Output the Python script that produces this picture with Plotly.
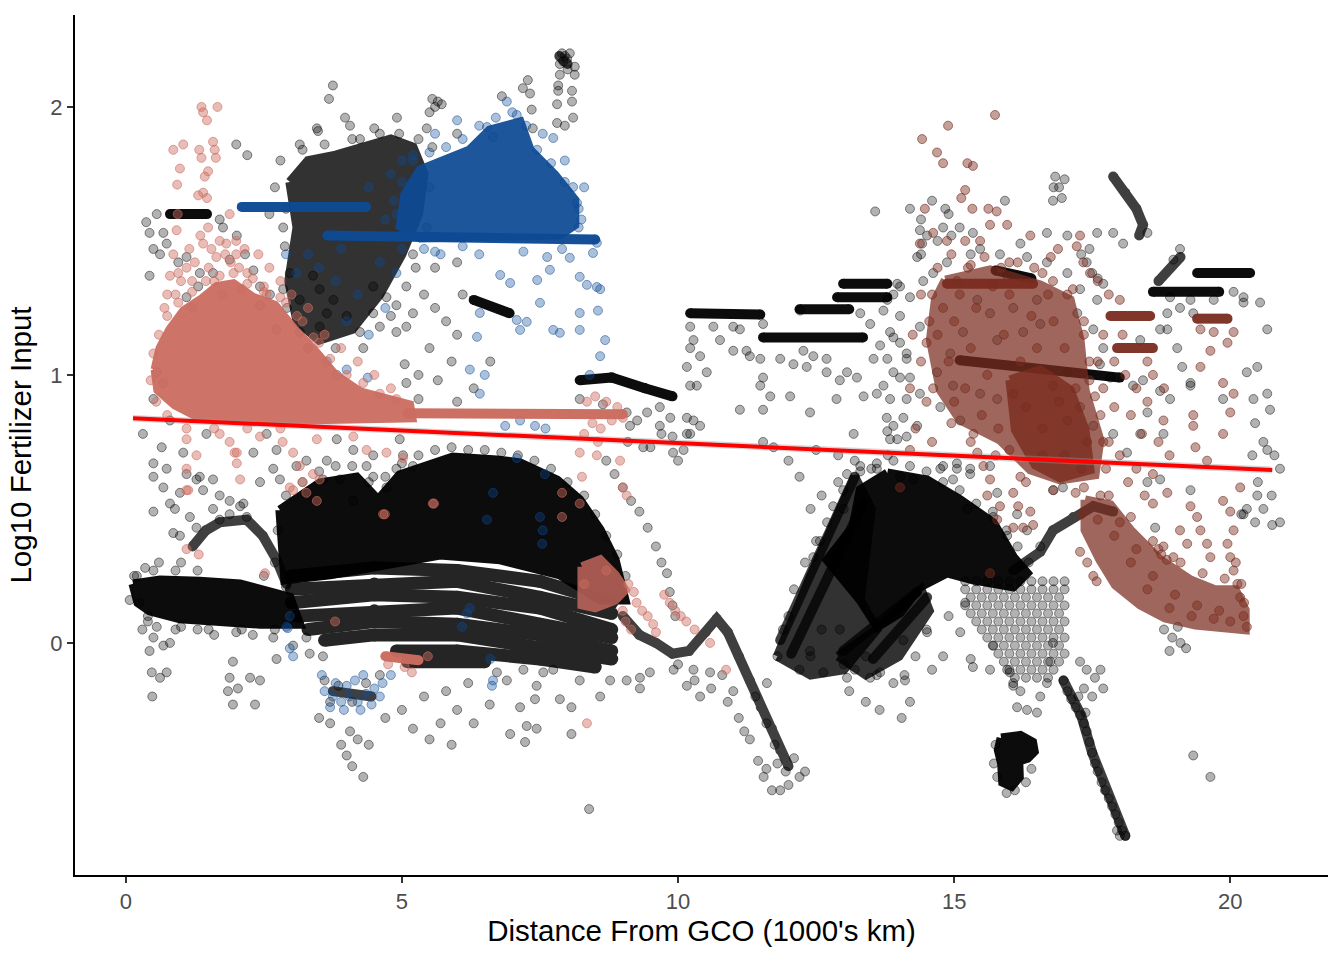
import plotly.graph_objects as go

# ---------------- data: x = distance from GCO (1000 km), y = log10 fertilizer ----------------
BLACK = "0,0,0"
SALMON = "204,108,96"
BLUE = "14,74,148"
BROWN = "122,44,30"

# dense black clusters (outline of heavily overplotted areas)
black_cores = [
    [(0.13, 0.22), (0.62, 0.235), (1.34, 0.23), (2.07, 0.22), (2.97, 0.17), (3.15, 0.07), (2.43, 0.07),
     (1.70, 0.08), (0.98, 0.09), (0.43, 0.12), (0.22, 0.15)],
    [(2.79, 0.496), (3.51, 0.597), (4.18, 0.619), (4.57, 0.534), (4.96, 0.627), (5.92, 0.694), (6.72, 0.683),
     (7.14, 0.672), (7.81, 0.608), (8.22, 0.534), (8.59, 0.422), (8.86, 0.31), (9.04, 0.16), (8.59, 0.16),
     (7.86, 0.254), (6.78, 0.31), (5.69, 0.328), (4.60, 0.291), (3.70, 0.254), (2.88, 0.235)],
    [(13.79, 0.634), (14.51, 0.608), (15.11, 0.534), (15.71, 0.448), (16.07, 0.321), (16.32, 0.261),
     (16.07, 0.209), (15.34, 0.235), (14.87, 0.261), (14.38, 0.209), (14.02, 0.112), (13.61, 0.06),
     (13.30, 0.16), (12.99, 0.235), (12.70, 0.31), (13.17, 0.433), (13.30, 0.571)],
    [(15.85, -0.355), (16.20, -0.345), (16.42, -0.37), (16.45, -0.405), (16.33, -0.43), (16.17, -0.44),
     (16.18, -0.50), (16.04, -0.535), (15.88, -0.52), (15.86, -0.45), (15.80, -0.40)],
]
# medium-density black areas
black_soft = [
    [(2.97, 1.72), (3.30, 1.80), (3.80, 1.82), (4.30, 1.85), (4.80, 1.88), (5.20, 1.85), (5.40, 1.75),
     (5.30, 1.60), (5.00, 1.45), (4.60, 1.30), (4.10, 1.17), (3.50, 1.13), (3.10, 1.20), (2.95, 1.35),
     (3.10, 1.55)],
    [(11.80, -0.05), (12.40, 0.25), (13.20, 0.62), (13.50, 0.50), (13.30, 0.16), (13.60, 0.05),
     (13.00, -0.10), (12.40, -0.12)],
    [(12.90, -0.05), (13.60, 0.05), (14.40, 0.20), (14.55, 0.12), (14.00, -0.05), (13.40, -0.12)],
]

# chains of overlapping black points
black_tracks = [
    [(1.21, 0.36), (1.45, 0.42), (1.70, 0.45), (2.19, 0.46), (2.48, 0.40), (2.73, 0.31), (2.91, 0.22)],
    [(9.0, 0.10), (9.3, 0.03), (9.6, 0.0), (9.9, -0.04), (10.2, -0.03), (10.5, 0.04), (10.7, 0.09),
     (10.9, 0.04), (11.1, -0.05), (11.3, -0.14), (11.5, -0.24), (11.7, -0.32), (11.85, -0.40), (12.0, -0.46)],
    [(11.85, 0.01), (13.20, 0.62)],
    [(12.05, -0.04), (13.35, 0.52)],
    [(12.99, -0.03), (14.33, 0.19)],
    [(13.53, -0.06), (14.51, 0.17)],
    [(16.07, 0.27), (16.56, 0.34), (16.79, 0.42), (17.16, 0.47), (17.52, 0.51), (17.88, 0.49)],
    [(16.98, -0.14), (17.3, -0.27), (17.5, -0.41), (17.75, -0.55), (18.1, -0.72)],
    [(17.88, 1.74), (18.1, 1.68), (18.3, 1.62), (18.42, 1.56), (18.35, 1.52)],
    [(18.7, 1.35), (19.1, 1.44)],
    [(7.85, 2.19), (8.0, 2.16)],
    [(3.75, -0.18), (4.45, -0.2)],
]
# striated lower part of the big western cluster
black_rows = [
    [(3.0, 0.25), (4.5, 0.28), (6.0, 0.27), (7.5, 0.23), (8.8, 0.15)],
    [(3.0, 0.20), (4.5, 0.22), (6.0, 0.23), (7.5, 0.17), (8.8, 0.11)],
    [(3.0, 0.15), (4.5, 0.18), (6.0, 0.17), (7.5, 0.13), (8.8, 0.05)],
    [(3.1, 0.10), (4.5, 0.12), (6.0, 0.13), (7.5, 0.07), (8.8, 0.02)],
    [(3.3, 0.05), (4.5, 0.08), (6.0, 0.07), (7.5, 0.03), (8.8, -0.03)],
    [(3.6, 0.01), (4.5, 0.03), (6.0, 0.03), (7.5, -0.02), (8.8, -0.06)],
    [(4.9, -0.03), (6.0, -0.03), (7.5, -0.06), (8.5, -0.09)],
    [(5.1, -0.07), (6.5, -0.07)],
]
# horizontal runs of identical values: (x start, x end, y start, y end)
black_bands = [
    (0.8, 1.47, 1.60, 1.60), (10.22, 11.49, 1.23, 1.225), (11.54, 13.35, 1.14, 1.14),
    (12.2, 13.1, 1.245, 1.245), (12.88, 13.79, 1.29, 1.29), (12.99, 13.79, 1.34, 1.34),
    (15.1, 18.0, 1.055, 0.99), (18.6, 19.8, 1.31, 1.31), (19.4, 20.36, 1.38, 1.38),
    (15.75, 16.4, 1.39, 1.36), (6.3, 6.95, 1.28, 1.23),
    (8.22, 8.8, 0.98, 0.99), (8.8, 9.4, 0.99, 0.95), (9.4, 9.9, 0.95, 0.92),
]
black_grid_y = [0.23, 0.20, 0.17, 0.14, 0.11, 0.08, 0.05, 0.02, -0.01, -0.04, -0.07, -0.10, -0.13]
black_grid_x = [
    [15.2, 15.4, 15.6, 15.8, 16.0, 16.2, 16.4, 16.6, 16.8, 17.0],
    [15.2, 15.4, 15.6, 15.8, 16.0, 16.2, 16.4, 16.6, 16.8, 17.0],
    [15.3, 15.5, 15.7, 15.9, 16.1, 16.3, 16.5, 16.7, 16.9],
    [15.2, 15.4, 15.6, 15.8, 16.0, 16.2, 16.4, 16.6, 16.8, 17.0],
    [15.3, 15.5, 15.7, 15.9, 16.1, 16.3, 16.5, 16.7, 16.9],
    [15.4, 15.6, 15.8, 16.0, 16.2, 16.4, 16.6, 16.8, 17.0],
    [15.5, 15.7, 15.9, 16.1, 16.3, 16.5, 16.7, 16.9],
    [15.6, 15.8, 16.0, 16.2, 16.4, 16.6, 16.8, 17.0],
    [15.7, 15.9, 16.1, 16.3, 16.5, 16.7, 16.9],
    [15.8, 16.0, 16.2, 16.4, 16.6, 16.8, 17.0],
    [15.9, 16.1, 16.3, 16.5, 16.7, 16.9],
    [16.0, 16.2, 16.4, 16.6, 16.8],
    [16.1, 16.3, 16.5, 16.7],
]
black_points = [
    (0.31, 0.78), (0.50, 0.91), (0.65, 0.73), (0.50, 0.67), (0.74, 0.65), (0.50, 0.62), (0.80, 0.52),
    (0.50, 0.49), (0.89, 0.50), (0.98, 0.56), (1.10, 0.63), (1.34, 0.62), (1.58, 0.61), (1.70, 0.55),
    (1.88, 0.48), (2.13, 0.52), (2.43, 0.60), (2.67, 0.65), (2.79, 0.61), (3.09, 0.66), (3.27, 0.68),
    (3.64, 0.68), (3.82, 0.76), (4.12, 0.72), (4.36, 0.66), (4.48, 0.70), (4.96, 0.76), (5.02, 0.70),
    (5.20, 0.66), (0.98, 0.40), (1.28, 0.43), (1.40, 0.57), (2.31, 0.71), (2.55, 0.78), (2.73, 0.72),
    (3.57, 0.61), (3.88, 0.61), (4.12, 0.53), (4.48, 0.62), (4.72, 0.58), (4.90, 0.65), (1.46, 0.78),
    (1.04, 0.71), (0.80, 0.83), (0.68, 0.97), (0.56, 1.01), (5.05, 1.04), (5.08, 0.97), (5.30, 0.91),
    (0.37, 1.57), (0.56, 1.60), (0.43, 1.53), (0.68, 1.53), (0.50, 1.47), (0.62, 1.45), (0.43, 1.37),
    (0.95, 1.42), (1.10, 1.44), (0.74, 1.49), (1.70, 1.58), (1.76, 1.55), (1.34, 1.38), (1.58, 1.38),
    (1.31, 1.33), (1.10, 1.29), (1.88, 1.43), (2.01, 1.52), (2.16, 1.45), (2.31, 1.39), (2.43, 1.33),
    (2.61, 1.30), (2.97, 1.38), (3.15, 1.28), (2.85, 1.32), (2.43, 1.26), (2.73, 1.17), (3.39, 1.37),
    (3.51, 1.32), (3.64, 1.23), (4.00, 1.22), (4.24, 1.16), (4.60, 1.18), (4.90, 1.16), (5.08, 1.18),
    (5.20, 1.23), (4.90, 1.26), (5.08, 1.33), (4.72, 1.29), (4.48, 1.23), (4.48, 1.33), (3.76, 1.28),
    (3.51, 1.18), (3.15, 1.16),
    (0.68, 0.58), (1.16, 0.47), (0.86, 0.41), (1.28, 0.61), (1.58, 0.50), (1.70, 0.46), (1.88, 0.53),
    (2.07, 0.51), (2.19, 0.47), (0.50, 0.02), (0.68, -0.01), (0.80, 0.00), (0.43, -0.03), (0.47, -0.11),
    (0.62, -0.13), (0.74, -0.11), (0.48, -0.20), (1.94, -0.07), (1.88, -0.13), (2.25, -0.13), (2.43, -0.14),
    (1.85, -0.18), (2.03, -0.17), (2.34, -0.23), (1.94, -0.23), (0.07, 0.16), (0.25, 0.15), (0.56, 0.06),
    (2.73, -0.06), (2.67, 0.02), (3.03, -0.01), (3.27, 0.02), (3.57, -0.05), (3.33, -0.04),
    (0.20, 0.25), (0.35, 0.28), (0.60, 0.30), (0.30, 0.05), (0.40, 0.10), (1.00, 0.30), (1.30, 0.05),
    (1.60, 0.03), (2.00, 0.04), (2.30, 0.03), (0.90, 0.05),
    (3.75, 2.08), (3.68, 2.03), (3.48, 1.91), (3.97, 1.96), (4.24, 1.88), (3.15, 1.86), (2.00, 1.86),
    (2.20, 1.82), (4.06, 1.93), (5.55, 2.03), (5.65, 2.02), (5.60, 2.00), (5.50, 1.98), (4.91, 1.96),
    (5.72, 2.01), (6.00, 1.90), (6.81, 2.04), (7.19, 2.07), (7.28, 2.10), (7.32, 2.05), (7.35, 1.99),
    (7.37, 1.92), (7.81, 2.01), (7.83, 2.06), (8.08, 2.06), (8.08, 2.02), (8.10, 1.96), (7.81, 1.94),
    (7.95, 1.93), (7.90, 2.20), (8.04, 2.20), (7.99, 2.18), (7.86, 2.16), (8.13, 2.15), (8.13, 2.12),
    (7.86, 2.12), (7.83, 2.08), (7.95, 2.19), (8.00, 2.14), (7.92, 2.17),
    (5.40, 1.30), (5.60, 1.25), (5.80, 1.20), (6.00, 1.15), (5.50, 1.10), (5.90, 1.05), (6.10, 1.30),
    (5.30, 1.00), (5.65, 0.98), (6.30, 0.95), (6.60, 1.05), (6.00, 0.90), (5.20, 1.45), (5.60, 1.40),
    (6.00, 1.42), (2.70, 1.70), (2.80, 1.80), (2.60, 1.60), (2.85, 1.55), (3.46, 1.92),
    (5.45, 1.92), (5.30, 1.88), (5.55, 1.85), (4.95, 1.90), (4.60, 1.90),
    (2.90, 1.62), (2.88, 1.48), (2.92, 1.25), (3.30, 1.10), (3.80, 1.10), (4.30, 1.10), (4.80, 1.22),
    (5.25, 1.40), (5.45, 1.55), (5.50, 1.70), (3.20, 1.84), (3.60, 1.86), (4.10, 1.88), (4.50, 1.92),
    (2.90, 0.55), (3.20, 0.60), (3.50, 0.64), (3.80, 0.66), (4.10, 0.66), (4.40, 0.60), (4.70, 0.62),
    (5.00, 0.67), (5.30, 0.70), (5.60, 0.72), (5.90, 0.73), (6.20, 0.72), (6.50, 0.72), (6.80, 0.71),
    (7.10, 0.70), (7.40, 0.68), (7.70, 0.65), (8.00, 0.60), (8.30, 0.55), (8.50, 0.48), (8.70, 0.40),
    (8.90, 0.33), (9.05, 0.25), (2.75, 0.42), (2.70, 0.30),
    (13.00, 0.50), (13.30, 0.64), (13.60, 0.67), (13.90, 0.68), (14.20, 0.66), (14.50, 0.64), (14.80, 0.60),
    (15.10, 0.57), (15.40, 0.52), (15.70, 0.49), (15.95, 0.42), (16.15, 0.36), (16.35, 0.30),
    (0.15, 0.25), (0.50, 0.27), (0.90, 0.27), (1.30, 0.27), (2.50, 0.25), (2.90, 0.21), (0.40, 0.08),
    (1.00, 0.06), (1.50, 0.05), (2.10, 0.05), (2.70, 0.05),
    (6.59, -0.23), (6.96, -0.34), (7.14, -0.24), (7.26, -0.31), (7.23, -0.37), (7.44, -0.32), (7.41, -0.21),
    (7.86, -0.21), (8.07, -0.24), (8.07, -0.34), (8.59, -0.20), (9.07, -0.14), (9.31, -0.17), (9.49, -0.11),
    (9.92, -0.10), (10.16, -0.16), (10.40, -0.20), (10.58, -0.11), (10.28, -0.10), (6.72, -0.11),
    (6.90, -0.14), (7.20, -0.10), (7.44, -0.16), (7.56, -0.11), (7.74, -0.10), (8.22, -0.14), (8.77, -0.14),
    (9.31, -0.13), (4.06, -0.33), (4.20, -0.36), (4.40, -0.38), (4.00, -0.42), (4.10, -0.46), (4.30, -0.50),
    (3.90, -0.38), (5.20, -0.32), (5.50, -0.36), (5.70, -0.30), (6.00, -0.25), (6.30, -0.30), (5.90, -0.38),
    (4.70, -0.28), (5.00, -0.25), (3.50, -0.28), (3.70, -0.30), (8.39, -0.62), (6.20, -0.15), (5.80, -0.18),
    (5.40, -0.20), (3.60, -0.14), (3.85, -0.16), (4.10, -0.22), (4.35, -0.15), (4.60, -0.12), (3.70, -0.22),
    (10.00, -0.08), (10.30, -0.14), (10.60, -0.17), (10.90, -0.22), (11.10, -0.28), (11.30, -0.36),
    (11.45, -0.44), (11.55, -0.50), (11.70, -0.55), (11.85, -0.55), (12.00, -0.53), (12.20, -0.50),
    (12.30, -0.48), (11.60, -0.47), (11.20, -0.33), (11.00, -0.18), (10.80, -0.12), (11.40, -0.20),
    (11.60, -0.30), (11.80, -0.45), (11.75, -0.38), (11.95, -0.48), (12.10, -0.43),
    (8.70, 0.68), (8.85, 0.63), (9.00, 0.58), (9.15, 0.53), (9.30, 0.49), (9.45, 0.43), (9.60, 0.36),
    (9.70, 0.30), (9.80, 0.26), (9.85, 0.19), (9.90, 0.14), (9.95, 0.10),
    (10.22, 1.18), (10.28, 1.13), (10.22, 1.10), (10.40, 1.07), (10.52, 1.01), (10.16, 1.03), (10.22, 0.96),
    (10.34, 0.96), (10.28, 0.83), (10.22, 0.78), (10.40, 0.81), (10.76, 1.13), (11.00, 1.09), (11.24, 1.09),
    (11.30, 1.07), (11.54, 1.19), (11.49, 1.06), (11.54, 0.99), (11.49, 0.96), (11.67, 0.92), (11.12, 0.87),
    (11.54, 0.87), (12.03, 0.92), (11.85, 1.06), (12.09, 1.04), (12.33, 1.03), (12.45, 1.07), (12.27, 1.09),
    (12.69, 1.06), (12.69, 1.01), (13.06, 1.01), (12.93, 0.98), (13.24, 0.99), (13.60, 0.93), (13.36, 0.92),
    (12.39, 0.86), (12.87, 0.91), (13.18, 0.78), (13.54, 1.06), (13.66, 1.11), (13.90, 1.14), (14.02, 1.12),
    (14.14, 1.06), (14.20, 0.99), (13.90, 1.01), (13.72, 0.96), (13.78, 0.84), (13.90, 0.81), (14.14, 0.91),
    (11.54, 0.75), (11.73, 0.73), (11.00, 1.18), (11.12, 1.17), (10.64, 1.18), (12.21, 1.24), (13.30, 1.23),
    (13.48, 1.19), (13.72, 1.24), (13.90, 1.30), (14.02, 1.33), (14.20, 1.29),
    (10.10, 0.72), (10.00, 0.68), (9.90, 0.77), (9.50, 0.73), (9.70, 0.78), (12.50, 0.72), (12.90, 0.70),
    (13.20, 0.68), (13.50, 0.65), (13.80, 0.70), (12.20, 0.62), (12.00, 0.68), (13.57, 1.61), (14.20, 1.62),
    (14.40, 1.58), (14.60, 1.65), (14.90, 1.60), (14.95, 1.52), (15.10, 1.55), (15.30, 1.45), (14.70, 1.50),
    (14.40, 1.45),
    (8.22, 0.91), (8.64, 0.89), (9.07, 0.86), (9.26, 0.83), (9.44, 0.86), (9.67, 0.88), (9.86, 0.84),
    (9.91, 0.71), (10.16, 0.78), (10.16, 0.84), (9.67, 0.81), (9.13, 0.81), (9.37, 0.73), (9.09, 0.75),
    (11.80, -0.05), (11.90, 0.05), (12.00, 0.10), (12.10, 0.20), (12.30, 0.30), (12.50, 0.38), (12.40, 0.50),
    (12.60, 0.55), (12.90, 0.60), (12.20, -0.10), (12.40, -0.05), (12.60, 0.05), (13.00, -0.08),
    (13.20, -0.10), (13.40, -0.05), (13.10, -0.18), (13.40, -0.22), (13.60, -0.12), (13.90, -0.15),
    (14.10, -0.12), (14.30, -0.05), (14.60, -0.10), (14.80, -0.05), (14.50, 0.05), (14.90, 0.10),
    (15.20, 0.15), (13.65, -0.25), (14.05, -0.28), (14.20, -0.22),
    (12.63, -0.11), (13.06, -0.13), (13.48, -0.13), (13.66, -0.11), (14.11, -0.14), (12.39, -0.03),
    (12.93, 0.05), (14.08, 0.01), (14.51, 0.04), (15.11, 0.04), (15.34, -0.09), (15.71, -0.01),
    (16.07, -0.16), (16.01, -0.11), (11.61, -0.15),
    (13.06, 0.63), (13.30, 0.66), (13.60, 0.65), (14.02, 0.62), (14.26, 0.61), (14.75, 0.65), (15.05, 0.65),
    (15.29, 0.63), (12.99, 0.57), (12.81, 0.51), (12.70, 0.45), (12.57, 0.38), (12.45, 0.32), (15.24, 0.50),
    (15.71, 0.47), (15.96, 0.40), (16.14, 0.48), (16.32, 0.42), (16.56, 0.36), (15.78, 0.56), (14.98, 0.61),
    (13.84, 0.76), (14.14, 0.77), (14.80, 0.66), (15.05, 0.67), (15.29, 0.65), (15.65, 0.66), (16.79, 0.57),
    (16.97, 0.58), (18.13, 0.71), (18.50, 0.60), (18.73, 0.61), (19.28, 0.57), (20.30, 0.50), (20.49, 0.55),
    (20.67, 0.72), (20.76, 0.44), (20.24, 0.48), (18.64, 0.43),
    (17.28, -0.07), (17.40, -0.10), (17.55, -0.13), (17.70, -0.17), (17.35, -0.17), (17.50, -0.20),
    (17.65, -0.10), (18.80, 0.05), (18.95, 0.02), (19.10, 0.00), (19.20, -0.02), (18.90, -0.03),
    (19.05, 0.06), (19.33, -0.42), (19.64, -0.50), (15.30, -0.06), (15.65, -0.10), (15.96, -0.10),
    (16.07, -0.15), (16.20, -0.18), (16.14, -0.24), (16.32, -0.25), (16.50, -0.26), (16.56, -0.20),
    (16.68, -0.15), (16.74, -0.07), (16.79, 0.00), (15.72, -0.45), (15.78, -0.50), (16.30, -0.52),
    (15.95, -0.56), (16.10, -0.55), (16.40, -0.47), (15.75, -0.38),
    (16.98, -0.14), (17.05, -0.18), (17.12, -0.21), (17.20, -0.24), (17.28, -0.27), (17.35, -0.30),
    (17.40, -0.33), (17.45, -0.37), (17.50, -0.41), (17.55, -0.45), (17.60, -0.48), (17.67, -0.52),
    (17.73, -0.55), (17.80, -0.58), (17.86, -0.61), (17.92, -0.64), (17.98, -0.67), (18.04, -0.70),
    (18.10, -0.72), (18.00, -0.72), (17.95, -0.70), (17.25, -0.20), (17.38, -0.26),
    (14.38, 1.54), (14.51, 1.52), (14.84, 1.62), (14.80, 1.55), (15.34, 1.53), (15.92, 1.65), (16.83, 1.74),
    (16.79, 1.65), (16.68, 1.53), (17.05, 1.52), (17.59, 1.53), (17.88, 1.53), (18.06, 1.49), (18.50, 1.53),
    (19.09, 1.47), (18.97, 1.43), (20.54, 1.27), (20.67, 1.17), (20.49, 1.03), (20.24, 1.29), (19.09, 1.25),
    (19.33, 1.23), (18.86, 1.17), (19.04, 1.10), (19.13, 1.03), (19.87, 0.91), (20.30, 1.01), (19.28, 0.96),
    (20.67, 0.93), (20.72, 0.87), (20.42, 0.91), (20.45, 0.82), (20.60, 0.75), (20.80, 0.70), (20.90, 0.65),
    (20.75, 0.55), (20.90, 0.45), (20.50, 0.60), (20.60, 0.50), (20.40, 0.70), (20.45, 0.45), (20.20, 0.48),
    (16.90, 1.70), (16.95, 1.66), (17.00, 1.73), (16.80, 1.70),
    (14.42, 1.49), (14.33, 1.44), (14.87, 1.42), (15.05, 1.35), (14.62, 1.38), (14.44, 1.35), (13.97, 1.34),
    (13.79, 1.28), (14.02, 1.22), (14.38, 1.18), (13.84, 1.16), (14.14, 1.08), (13.79, 1.06), (14.02, 0.99),
    (14.38, 0.93), (13.84, 0.91), (14.08, 0.84), (14.33, 0.81), (13.79, 0.79), (13.97, 0.76), (16.68, 1.42),
    (17.05, 1.38), (17.28, 1.32), (17.59, 1.28), (17.23, 1.23), (17.52, 1.17), (17.70, 1.10), (17.64, 1.04),
    (17.83, 0.99), (18.24, 0.96), (18.42, 0.98), (18.73, 0.94), (18.91, 0.91), (19.28, 0.97), (18.50, 0.86),
    (18.79, 0.78), (18.37, 0.78), (17.88, 0.78), (18.37, 1.13), (18.73, 1.17), (18.86, 1.23), (18.91, 1.29),
    (19.28, 1.28), (19.70, 1.28), (20.06, 1.31), (20.24, 1.27), (15.47, 1.47), (15.83, 1.45), (16.20, 1.49),
    (16.32, 1.44), (15.96, 1.37), (15.42, 1.28), (15.65, 1.23), (16.07, 1.25), (16.50, 1.28), (16.56, 1.19),
    (16.25, 1.16), (15.78, 1.13), (15.16, 1.16), (14.93, 1.08), (14.69, 1.01), (14.98, 0.96), (14.75, 0.88),
    (15.11, 0.83), (15.47, 0.93), (15.78, 0.91), (16.07, 0.93), (16.79, 0.96), (17.05, 1.01), (17.28, 0.88),
    (17.05, 0.83), (17.52, 0.81), (17.41, 0.75), (17.30, 1.45), (17.40, 1.42), (17.50, 1.38), (17.60, 1.36),
    (17.70, 1.34), (17.45, 1.47),
]

# salmon group
salmon_core = [(0.53, 1.02), (0.62, 1.10), (0.80, 1.17), (1.05, 1.24), (1.35, 1.28), (1.65, 1.33),
               (1.95, 1.34), (2.30, 1.29), (2.70, 1.26), (3.05, 1.17), (3.42, 1.09), (3.79, 1.00),
               (4.24, 0.937), (5.14, 0.888), (5.18, 0.84), (3.15, 0.832), (1.34, 0.84), (0.89, 0.888),
               (0.58, 0.944)]
salmon_patch = [(8.26, 0.284), (8.59, 0.31), (8.86, 0.254), (9.04, 0.198), (8.86, 0.16), (8.50, 0.131),
                (8.26, 0.142)]
salmon_bands = [(5.1, 9.0, 0.857, 0.853), (4.7, 5.3, -0.05, -0.065)]
salmon_points = [
    (1.37, 2.00), (1.66, 2.00), (1.40, 1.98), (1.47, 1.95), (0.86, 1.84), (1.04, 1.86), (1.33, 1.84),
    (1.37, 1.81), (1.58, 1.87), (1.61, 1.84), (1.63, 1.81), (0.98, 1.77), (1.49, 1.76), (1.43, 1.74),
    (0.93, 1.71), (1.40, 1.68), (1.47, 1.66), (1.31, 1.67), (1.88, 1.60), (0.92, 1.54), (1.49, 1.55),
    (1.40, 1.49), (0.86, 1.45), (1.10, 1.40), (0.80, 1.37), (1.64, 1.44), (1.82, 1.49), (0.94, 1.60),
    (0.70, 1.25), (0.90, 1.30), (1.20, 1.35), (1.90, 1.42), (2.20, 1.38), (2.50, 1.33), (2.80, 1.35),
    (3.00, 1.30), (3.30, 1.25), (2.40, 1.45), (2.00, 1.50), (1.75, 1.30), (3.60, 1.15), (3.90, 1.10),
    (4.20, 1.05), (4.50, 1.00), (4.80, 0.95), (1.20, 1.25), (1.60, 1.35), (2.10, 1.32), (2.60, 1.40),
    (0.75, 1.30), (1.00, 1.35), (1.25, 1.42), (1.50, 1.40), (1.80, 1.45), (2.05, 1.40), (2.30, 1.36),
    (2.55, 1.30), (2.90, 1.27), (1.15, 1.47), (1.70, 1.50), (2.15, 1.47), (1.35, 1.52), (0.95, 1.38),
    (1.55, 1.47), (2.00, 1.45), (3.20, 1.20), (3.50, 1.12),
    (0.50, 1.08), (0.60, 1.15), (0.75, 1.22), (0.95, 1.27), (1.20, 1.31), (1.45, 1.35), (1.70, 1.37),
    (1.95, 1.38), (2.20, 1.34), (2.50, 1.31), (2.80, 1.29), (3.10, 1.22), (3.40, 1.14), (3.70, 1.06),
    (4.00, 1.00), (4.30, 0.97), (4.60, 0.93), (4.90, 0.91), (0.45, 0.98), (0.55, 0.90), (0.75, 0.85),
    (1.10, 0.80), (1.60, 0.80), (2.20, 0.80), (2.80, 0.80),
    (1.10, 0.76), (1.28, 0.70), (2.01, 0.71), (1.88, 0.75), (1.10, 0.65), (1.13, 0.57), (2.07, 0.61),
    (2.97, 0.58), (3.20, 0.60), (3.39, 0.63), (3.15, 0.66), (2.84, 0.75), (3.46, 0.76), (4.12, 0.77),
    (4.36, 0.72), (4.72, 0.71), (5.02, 0.69), (3.03, 0.71), (3.27, 0.56), (3.46, 0.53), (4.66, 0.48),
    (3.51, 0.61), (2.43, 0.77), (1.70, 0.78), (1.10, 0.35), (1.32, 0.33), (2.52, 0.26), (1.10, 0.57),
    (3.03, 0.57), (3.79, 0.08), (4.69, 0.48), (5.58, 0.52), (2.01, 0.67), (1.97, 0.71), (5.56, 0.52),
    (7.90, 0.56), (8.22, 0.52), (7.90, 0.47), (5.18, -0.11), (5.47, -0.05), (4.75, -0.08), (5.05, -0.09),
    (8.22, 0.71), (8.53, 0.70), (8.95, 0.68), (9.00, 0.58), (8.26, 0.62), (9.07, 0.55),
    (8.35, 0.90), (8.50, 0.92), (8.70, 0.90), (8.90, 0.88), (8.45, 0.82), (8.60, 0.80), (8.80, 0.83),
    (9.00, 0.84), (8.30, 0.78), (8.55, 0.75),
    (9.10, 0.22), (9.20, 0.19), (9.25, 0.15), (9.35, 0.12), (9.45, 0.10), (9.55, 0.07), (9.60, 0.04),
    (9.00, 0.12), (9.05, 0.08), (9.15, 0.05), (9.75, 0.18), (9.85, 0.15), (9.95, 0.12), (10.05, 0.10),
    (10.15, 0.08), (10.30, 0.05), (10.58, 0.00), (10.87, -0.10), (8.35, -0.30), (8.30, 0.22), (8.70, 0.27),
]

# blue group
blue_core = [(4.96, 1.541), (5.05, 1.672), (5.33, 1.765), (5.78, 1.802), (6.23, 1.84), (6.59, 1.914),
             (7.14, 1.944), (7.32, 1.84), (7.77, 1.746), (8.13, 1.653), (8.13, 1.56), (7.86, 1.522),
             (6.41, 1.511), (5.33, 1.511)]
blue_bands = [(2.1, 4.35, 1.627, 1.627), (3.65, 8.5, 1.52, 1.505)]
blue_points = [
    (6.78, 1.373), (6.96, 1.343), (7.45, 1.354), (7.68, 1.392), (7.50, 1.269), (8.22, 1.366), (8.35, 1.336),
    (8.53, 1.328), (8.22, 1.231), (7.74, 1.168), (7.86, 1.157), (6.41, 1.231), (7.08, 1.205), (7.26, 1.198),
    (8.53, 1.493), (8.46, 1.455), (8.04, 1.437), (7.63, 1.44), (6.36, 1.142), (7.14, 1.168), (8.22, 1.168),
    (7.74, 1.884), (7.08, 1.97), (6.54, 1.925), (6.65, 1.888), (8.10, 1.701), (8.17, 1.642),
    (8.55, 1.24), (8.68, 1.13), (8.59, 1.07), (8.40, 1.00), (8.59, 1.32), (6.23, 1.02), (6.50, 1.00),
    (7.14, 0.83), (7.41, 0.81), (7.60, 0.80), (6.87, 0.81), (6.41, 0.93),
    (3.50, 1.40), (3.80, 1.35), (4.20, 1.30), (4.60, 1.42), (4.90, 1.38), (3.30, 1.45), (4.00, 1.20),
    (4.40, 1.15), (3.90, 1.47), (4.70, 1.25), (2.90, 1.45), (3.10, 1.38), (5.70, 1.45), (6.10, 1.48),
    (5.40, 1.47), (4.70, 1.58), (4.40, 1.70), (4.80, 1.75), (5.00, 1.80),
    (3.82, 1.00), (4.00, 1.02), (4.38, 0.99), (3.64, 1.05),
    (3.60, -0.18), (3.75, -0.20), (3.90, -0.22), (4.05, -0.20), (4.20, -0.22), (4.35, -0.19), (4.50, -0.17),
    (4.65, -0.15), (3.80, -0.15), (4.00, -0.16), (4.15, -0.14), (4.30, -0.12), (3.70, -0.24), (3.95, -0.25),
    (4.25, -0.25), (4.45, -0.23), (4.80, -0.12), (4.60, -0.20), (3.55, -0.12),
    (2.97, 0.10), (2.93, 0.055), (2.97, -0.02), (3.03, -0.05), (6.18, 0.11), (6.09, 0.06), (6.23, 0.13),
    (6.60, -0.06), (6.65, -0.14), (6.63, -0.16), (7.50, 0.47), (7.55, 0.42), (7.54, 0.37), (6.65, 0.56),
    (6.54, 0.46), (7.08, 0.69), (7.59, 0.63), (2.91, 0.06),
    (5.20, 1.82), (5.60, 1.90), (6.00, 1.95), (6.90, 2.02), (7.55, 1.90), (7.95, 1.80), (8.25, 1.58),
    (8.30, 1.70), (5.00, 1.55), (4.85, 1.65),
    (4.90, 1.60), (5.00, 1.72), (5.20, 1.80), (5.50, 1.83), (5.80, 1.85), (6.10, 1.88), (6.40, 1.93),
    (6.70, 1.96), (7.00, 1.98), (7.25, 1.93), (7.45, 1.84), (7.70, 1.79), (7.95, 1.72), (8.20, 1.62),
    (8.20, 1.55), (5.00, 1.47), (5.60, 1.46), (6.40, 1.45), (7.20, 1.46), (7.90, 1.47),
]

# brown group
brown_cores = [
    [(14.84, 1.354), (15.65, 1.392), (16.56, 1.336), (17.10, 1.28), (17.28, 1.131), (17.37, 0.944),
     (17.64, 0.757), (17.55, 0.627), (16.92, 0.608), (16.38, 0.646), (15.83, 0.757), (15.11, 0.832),
     (14.75, 0.944), (14.57, 1.131), (14.66, 1.28)],
    [(17.37, 0.534), (17.83, 0.515), (18.19, 0.422), (18.73, 0.31), (19.28, 0.235), (19.73, 0.198),
     (20.09, 0.198), (20.27, 0.123), (20.27, 0.049), (19.91, 0.056), (19.37, 0.067), (18.82, 0.093),
     (18.37, 0.142), (17.92, 0.216), (17.64, 0.31), (17.37, 0.422)],
]
brown_dense = [(16.01, 0.981), (16.56, 1.019), (17.10, 0.944), (17.37, 0.795), (17.46, 0.646), (16.92, 0.616),
               (16.47, 0.664), (16.11, 0.795)]
brown_bands = [(17.83, 18.55, 1.22, 1.22), (17.95, 18.6, 1.10, 1.10), (19.4, 19.95, 1.21, 1.21),
               (14.87, 16.43, 1.34, 1.34)]
brown_points = [
    (15.74, 1.97), (14.89, 1.93), (14.42, 1.88), (14.69, 1.83), (14.80, 1.79), (15.24, 1.79), (15.34, 1.78),
    (15.20, 1.69), (15.13, 1.66), (15.33, 1.62), (15.62, 1.62), (15.77, 1.61), (14.47, 1.62), (16.38, 1.52),
    (17.28, 1.52), (16.88, 1.47), (17.22, 1.48), (15.96, 1.56), (15.65, 1.56), (15.47, 1.50), (15.20, 1.50),
    (14.87, 1.50), (14.62, 1.53), (14.38, 1.49), (16.79, 1.35), (17.34, 1.42), (17.46, 1.38),
    (19.46, 1.03), (19.87, 0.97), (20.06, 0.93), (20.00, 0.86), (19.87, 0.78), (19.33, 0.85), (19.33, 0.81),
    (18.79, 0.83), (20.06, 1.16), (19.70, 1.16), (19.64, 1.09), (19.95, 1.12), (19.46, 1.17),
    (15.65, 0.26), (16.25, 0.43), (16.43, 0.44), (16.38, 0.49), (16.07, 0.56), (15.83, 0.51), (17.28, 0.34),
    (17.41, 0.30), (17.52, 0.25), (17.58, 0.23), (18.60, 0.63), (18.60, 0.52), (18.86, 0.56), (19.37, 0.73),
    (19.58, 0.68), (20.18, 0.58), (19.87, 0.53), (20.00, 0.49), (20.06, 0.42), (19.95, 0.37), (20.00, 0.32),
    (20.06, 0.27), (20.13, 0.22), (20.18, 0.17), (20.24, 0.10), (20.30, 0.06), (19.46, 0.42), (19.58, 0.37),
    (19.64, 0.32), (19.28, 0.51), (19.40, 0.47), (19.09, 0.42), (19.22, 0.37), (18.97, 0.32), (18.79, 0.36),
    (18.75, 0.33), (18.85, 0.31), (18.70, 0.35),
    (15.53, 0.66), (15.65, 0.61), (15.60, 0.55), (15.78, 0.46), (16.07, 0.43), (16.16, 0.51), (15.42, 0.71),
    (14.02, 0.58), (14.20, 0.72),
    (14.60, 0.75), (14.50, 0.90), (14.40, 1.05), (14.55, 1.20), (14.70, 1.40), (14.40, 1.30), (14.30, 0.80),
    (14.20, 0.95), (14.25, 1.15),
    (17.60, 1.35), (17.80, 1.30), (18.00, 1.28), (17.70, 1.15), (17.90, 1.05), (18.10, 1.00), (18.30, 0.95),
    (17.70, 0.95), (17.90, 0.88), (18.20, 0.85), (18.40, 0.78), (17.80, 0.75), (18.00, 0.70), (18.30, 0.65),
    (18.50, 0.90), (18.60, 1.00), (18.70, 0.75), (18.90, 0.70), (17.60, 1.05), (18.05, 1.15), (18.50, 1.05),
    (18.80, 0.95), (17.65, 0.85), (18.15, 0.60), (18.45, 0.55),
    (15.00, 1.20), (15.30, 1.10), (15.60, 1.00), (15.90, 1.15), (16.20, 1.05), (16.50, 1.10), (16.80, 1.20),
    (17.00, 1.10), (15.20, 0.95), (15.50, 0.85), (15.80, 0.80), (16.30, 0.88), (16.60, 0.80), (16.90, 0.90),
    (17.20, 0.95), (14.90, 1.05), (15.40, 1.25), (16.00, 1.30), (16.70, 1.30), (16.40, 1.22), (15.70, 1.33),
    (15.10, 1.30), (14.80, 1.25), (14.70, 1.15), (15.00, 0.90), (15.35, 0.78), (16.00, 0.72), (16.20, 0.62),
    (16.60, 0.70), (17.00, 0.70), (17.30, 0.65), (17.20, 0.56),
    (14.95, 1.45), (15.25, 1.40), (15.55, 1.44), (15.85, 1.40), (16.15, 1.42), (16.45, 1.40), (16.75, 1.44),
    (17.05, 1.30), (17.35, 1.20), (17.45, 1.05), (17.55, 0.92), (17.75, 0.65), (17.65, 0.55), (18.00, 0.45),
    (18.30, 0.35), (18.60, 0.25), (19.00, 0.18), (19.40, 0.14), (19.80, 0.12), (20.10, 0.30),
    (14.60, 1.30), (14.50, 1.12), (14.62, 0.95), (14.95, 0.82), (15.30, 0.75), (15.75, 0.70), (16.30, 0.60),
    (16.80, 0.57), (17.35, 0.58), (17.70, 0.75), (17.45, 0.98), (17.35, 1.15), (17.15, 1.32), (16.60, 1.38),
    (16.00, 1.42), (15.30, 1.41), (17.30, 0.48), (17.60, 0.46), (17.90, 0.40), (18.20, 0.30), (18.50, 0.20),
    (18.90, 0.13), (19.30, 0.10), (19.70, 0.09), (20.00, 0.08), (20.25, 0.15), (20.20, 0.22), (19.90, 0.24),
    (19.50, 0.26), (19.10, 0.30), (18.60, 0.38), (18.20, 0.47), (17.80, 0.55),
]

# fitted linear trend with its narrow confidence band
trend_x = [0.13, 20.76]
trend_y = [0.838, 0.645]
trend_lo = [0.826, 0.632]
trend_hi = [0.850, 0.658]

# ---------------- figure ----------------
MS = 9


def xs_of(pts):
    return [p[0] for p in pts]


def ys_of(pts):
    return [p[1] for p in pts]


def points_trace(pts, c, a=0.3):
    return go.Scatter(x=xs_of(pts), y=ys_of(pts), mode="markers", hoverinfo="skip", showlegend=False,
                      marker=dict(size=MS, color=f"rgba({c},{a})",
                                  line=dict(width=1, color=f"rgba({c},{min(1.0, a + 0.15)})")))


def core_trace(poly, c, op, edge=MS):
    return go.Scatter(x=xs_of(poly) + [poly[0][0]], y=ys_of(poly) + [poly[0][1]], mode="lines",
                      fill="toself", fillcolor=f"rgb({c})", line=dict(width=edge, color=f"rgb({c})"),
                      opacity=op, hoverinfo="skip", showlegend=False)


def track_trace(tracks, c, op, w=MS):
    xs, ys = [], []
    for t in tracks:
        xs += xs_of(t) + [None]
        ys += ys_of(t) + [None]
    return go.Scatter(x=xs, y=ys, mode="lines+markers", line=dict(width=w, color=f"rgb({c})"),
                      marker=dict(size=w, color=f"rgb({c})"), opacity=op, hoverinfo="skip",
                      showlegend=False)


def bands_as_tracks(bands):
    return [[(b[0], b[2]), (b[1], b[3])] for b in bands]


grid_pts = []
for gy, gxs in zip(black_grid_y, black_grid_x):
    grid_pts += [(gx, gy) for gx in gxs]

fig = go.Figure()
# black
for poly in black_soft:
    fig.add_trace(core_trace(poly, BLACK, 0.8))
fig.add_trace(track_trace(black_tracks, BLACK, 0.75, 10))
fig.add_trace(track_trace(black_rows, BLACK, 0.85, 13))
for poly in black_cores:
    fig.add_trace(core_trace(poly, BLACK, 0.95))
fig.add_trace(track_trace(bands_as_tracks(black_bands), BLACK, 0.95, 10))
fig.add_trace(points_trace(black_points, BLACK))
fig.add_trace(points_trace(grid_pts, BLACK))
# blue
fig.add_trace(core_trace(blue_core, BLUE, 0.93))
fig.add_trace(track_trace(bands_as_tracks(blue_bands), BLUE, 0.97, 10))
fig.add_trace(points_trace(blue_points, BLUE, 0.35))
# salmon
fig.add_trace(core_trace(salmon_core, SALMON, 0.95))
fig.add_trace(core_trace(salmon_patch, SALMON, 0.8))
fig.add_trace(track_trace(bands_as_tracks(salmon_bands), SALMON, 0.97, 10))
fig.add_trace(points_trace(salmon_points, SALMON, 0.45))
# brown
for poly in brown_cores:
    fig.add_trace(core_trace(poly, BROWN, 0.72))
fig.add_trace(core_trace(brown_dense, BROWN, 0.8))
fig.add_trace(track_trace(bands_as_tracks(brown_bands), BROWN, 0.95, 10))
fig.add_trace(points_trace(brown_points, BROWN, 0.45))
# trend
fig.add_trace(go.Scatter(x=trend_x + trend_x[::-1], y=trend_hi + trend_lo[::-1], fill="toself",
                         fillcolor="rgba(153,153,153,0.4)", line=dict(width=0), mode="lines",
                         hoverinfo="skip", showlegend=False))
fig.add_trace(go.Scatter(x=trend_x, y=trend_y, mode="lines", line=dict(color="#FF0000", width=4),
                         hoverinfo="skip", showlegend=False))

axis_common = dict(showgrid=False, zeroline=False, showline=True, linecolor="black", linewidth=2,
                   ticks="outside", ticklen=6, tickwidth=2, tickcolor="#333333", automargin=False,
                   tickfont=dict(family="Liberation Sans, Arial, sans-serif", size=22, color="#4D4D4D"))
fig.update_layout(
    width=1344, height=960, plot_bgcolor="white", paper_bgcolor="white",
    margin=dict(l=75, r=16, t=15, b=85), showlegend=False,
    font=dict(family="Liberation Sans, Arial, sans-serif", color="black"),
    xaxis=dict(range=[-0.92, 21.77], tickvals=[0, 5, 10, 15, 20],
               title=dict(text="Distance From GCO (1000's km)", font=dict(size=29.5, color="black"),
                          standoff=6),
               **axis_common),
    yaxis=dict(range=[-0.866, 2.343], tickvals=[0, 1, 2],
               title=dict(text="Log10 Fertilizer Input", font=dict(size=29.5, color="black"), standoff=10),
               **axis_common),
)
fig.write_html("out.html", config={"displayModeBar": False},
               post_script="document.body.style.margin='0';")
